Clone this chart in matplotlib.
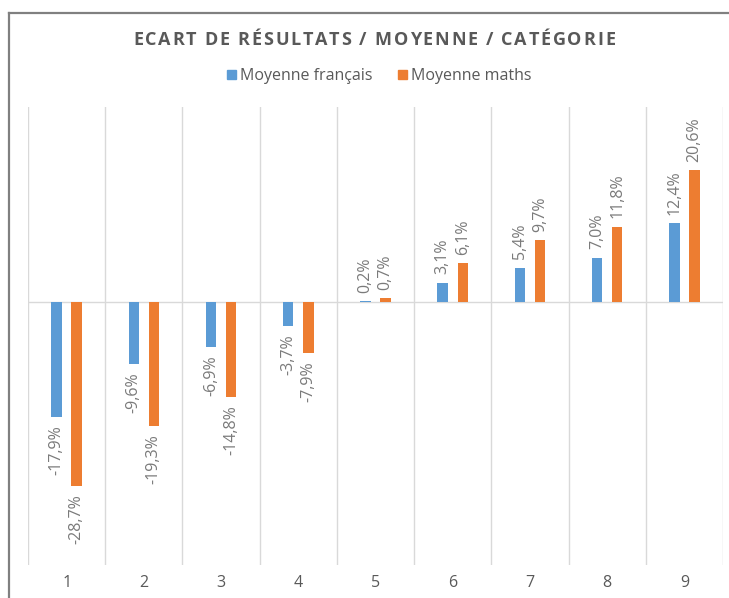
import matplotlib
matplotlib.use("Agg")
import matplotlib.pyplot as plt
from matplotlib.lines import Line2D
from matplotlib.patches import Rectangle
from matplotlib.font_manager import FontProperties
import numpy as np

categories = ["1", "2", "3", "4", "5", "6", "7", "8", "9"]
francais = [-17.9, -9.6, -6.9, -3.7, 0.2, 3.1, 5.4, 7.0, 12.4]
maths = [-28.7, -19.3, -14.8, -7.9, 0.7, 6.1, 9.7, 11.8, 20.6]
series_names = ["Moyenne français", "Moyenne maths"]
title = "ECART DE RÉSULTATS / MOYENNE / CATÉGORIE"

plt.rcParams['font.family'] = ['Open Sans', 'DejaVu Sans']
TXT = "#595959"
LBL = "#7a7a7a"
BLUE = "#5B9BD5"
ORANGE = "#ED7D31"
GRID = "#D9D9D9"

W, H = 729, 598
fig = plt.figure(figsize=(W/100, H/100), dpi=100)
ax = fig.add_axes([28/W, 1-565/H, 695/W, 458/H])

x = np.arange(len(categories))
w = 0.135
off = 0.13
b1 = ax.bar(x - off, francais, w, color=BLUE, label=series_names[0], zorder=3)
b2 = ax.bar(x + off, maths, w, color=ORANGE, label=series_names[1], zorder=3)

fmt = lambda v: f"{v:.1f}%".replace('.', ',')
for bars, vals in ((b1, francais), (b2, maths)):
    ax.bar_label(bars, labels=[fmt(v) for v in vals], rotation=90, padding=6,
                 color=LBL, fontsize=11.5)

ax.set_xlim(-0.5, len(categories) - 0.5)
ax.set_ylim(-41, 30.5)
ax.axhline(0, color=GRID, lw=1.0, zorder=2)
ax.set_xticks(np.arange(-0.5, len(categories), 1.0), minor=True)
ax.grid(True, which='minor', axis='x', color=GRID, lw=1.0, zorder=0)
ax.grid(False, which='major')
ax.set_xticks(x)
ax.set_xticklabels(categories, color=TXT, fontsize=11.5)
ax.tick_params(axis='x', which='both', length=0, pad=7)
ax.set_yticks([])
for s in ax.spines.values():
    s.set_visible(False)

# letter-spaced title
fp = FontProperties(family='Open Sans', weight='bold', size=13)
renderer = fig.canvas.get_renderer()
def tw(s):
    wdt, _, _ = renderer.get_text_width_height_descent(s, fp, ismath=False)
    return wdt
base = tw("HH")
advs = [tw("H" + c + "H") - base for c in title]
target_w = 482
natural = sum(advs[:-1]) + tw(title[-1])
spacing = (target_w - natural) / (len(title) - 1)
cx = 374 - target_w / 2
for c, a in zip(title, advs):
    if c != " ":
        fig.text(cx / W, 1 - 40/H, c, ha='left', va='center', fontproperties=fp, color=TXT)
    cx += a + spacing

handles = [Rectangle((0, 0), 1, 1, color=BLUE), Rectangle((0, 0), 1, 1, color=ORANGE)]
fig.legend(handles, series_names, loc='center', bbox_to_anchor=(379/W, 1-76/H),
           ncol=2, frameon=False, fontsize=11.5, labelcolor=TXT, handlelength=0.55,
           handleheight=0.55, handletextpad=0.25, columnspacing=1.6)

fig.add_artist(Line2D([9/W, 9/W], [0, 1-13/H], color="#808080", lw=1.6,
                      transform=fig.transFigure))
fig.add_artist(Line2D([9/W, 1], [1-13/H, 1-13/H], color="#808080", lw=1.6,
                      transform=fig.transFigure))

fig.savefig("out.png", dpi=100)
